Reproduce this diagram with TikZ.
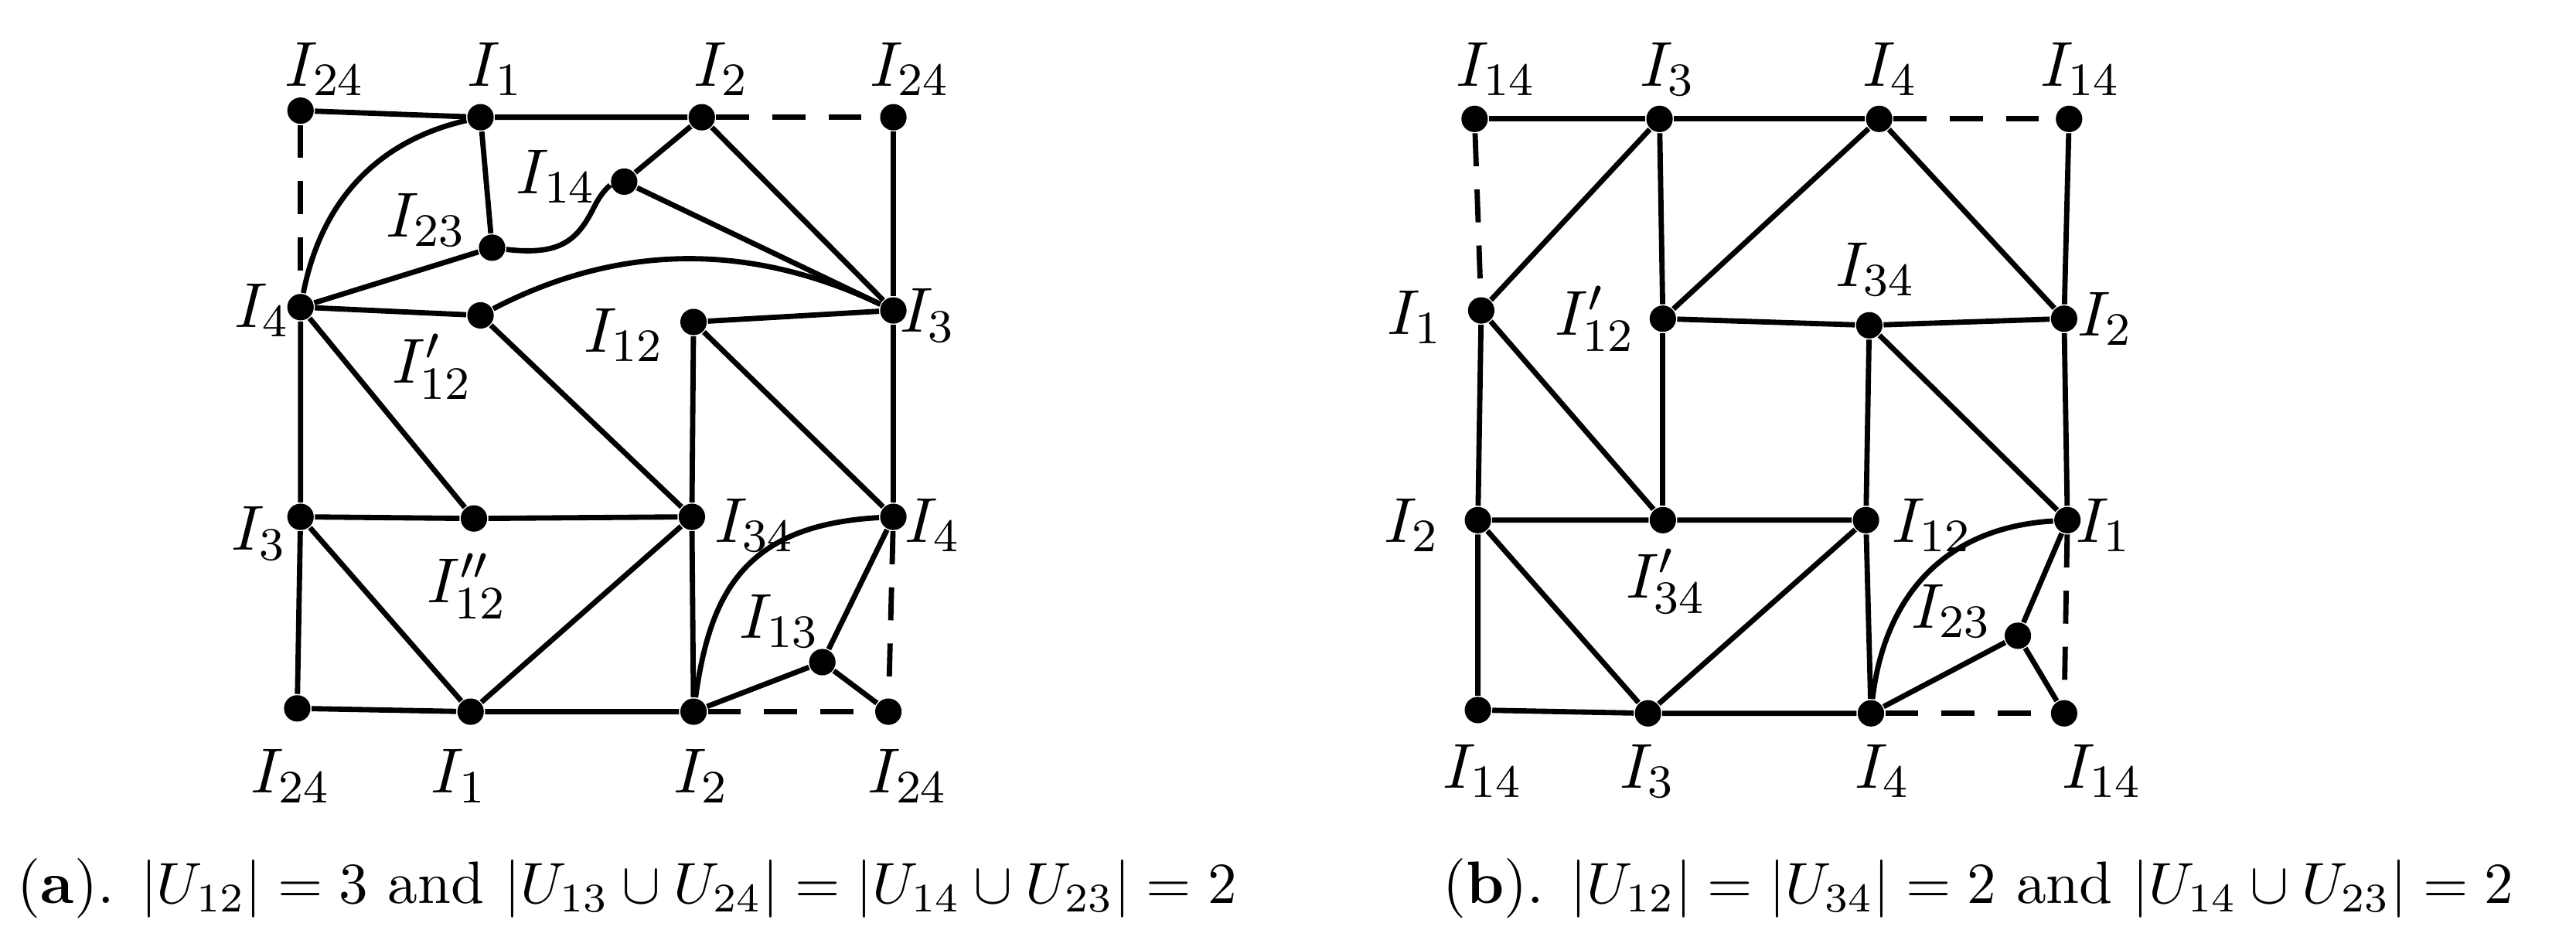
\documentclass[tikz,border=0pt]{standalone}
\begin{document}
\begin{tikzpicture}[x=0.1mm,y=-0.1mm,
 dot/.style={circle,fill=black,inner sep=0pt,minimum size=1.6mm},
 ln/.style={line width=0.32mm},
 dsh/.style={line width=0.32mm,dash pattern=on 2mm off 1.4mm},
 lb/.style={font=\fontsize{11}{13}\selectfont},
 captxt/.style={font=\fontsize{10.3}{12}\selectfont,inner sep=0pt,anchor=west}]
\useasboundingbox (0,0) rectangle (1560,573.5);
% panel a
\node[dot] (a24tl) at (182,67) {};
\node[dot] (a1t) at (291,71) {};
\node[dot] (a2t) at (425,71) {};
\node[dot] (a24tr) at (541,71) {};
\node[dot] (a14) at (378,110) {};
\node[dot] (a23) at (298,150) {};
\node[dot] (a4l) at (182,186) {};
\node[dot] (a12p) at (291,191) {};
\node[dot] (a12) at (420,195) {};
\node[dot] (a3r) at (541,188) {};
\node[dot] (a3l) at (182,313) {};
\node[dot] (a12pp) at (287,314) {};
\node[dot] (a34) at (419,313) {};
\node[dot] (a4r) at (541,313) {};
\node[dot] (a13) at (498,401) {};
\node[dot] (a24bl) at (180,429) {};
\node[dot] (a1b) at (285,431) {};
\node[dot] (a2b) at (420,431) {};
\node[dot] (a24br) at (538,431) {};
\draw[ln] (a24tl)--(a1t)--(a2t);
\draw[dsh] (a2t)--(a24tr);
\draw[dsh] (a24tl)--(a4l);
\draw[ln] (a24tr)--(a3r);
\draw[ln] (a1t)--(a23);
\draw[ln] (a4l) .. controls (195,120) and (230,85) .. (a1t);
\draw[ln] (a4l)--(a23);
\draw[ln] (a23) .. controls (340,155) and (350,145) .. (360,125) .. controls (365,115) and (370,112) .. (a14);
\draw[ln] (a14)--(a2t);
\draw[ln] (a14)--(a3r);
\draw[ln] (a2t)--(a3r);
\draw[ln] (a12p) .. controls (360,155) and (440,140) .. (a3r);
\draw[ln] (a4l)--(a12p)--(a34);
\draw[ln] (a4l)--(a12pp);
\draw[ln] (a4l)--(a3l)--(a24bl)--(a1b)--(a2b);
\draw[ln] (a3l)--(a12pp)--(a34);
\draw[ln] (a3l)--(a1b)--(a34);
\draw[ln] (a12)--(a3r)--(a4r);
\draw[ln] (a12)--(a34)--(a2b);
\draw[ln] (a12)--(a4r);
\draw[ln] (a4r) .. controls (450,318) and (430,360) .. (a2b);
\draw[ln] (a4r)--(a13)--(a2b);
\draw[ln] (a13)--(a24br);
\draw[dsh] (a4r)--(a24br);
\draw[dsh] (a2b)--(a24br);
\node[lb] at (197,42) {$I_{24}$};
\node[lb] at (300,42) {$I_{1}$};
\node[lb] at (437,42) {$I_{2}$};
\node[lb] at (551,42) {$I_{24}$};
\node[lb] at (337,107) {$I_{14}$};
\node[lb] at (258,133) {$I_{23}$};
\node[lb] at (159,188) {$I_{4}$};
\node[lb] at (262,222) {$I'_{12}$};
\node[lb] at (378,203) {$I_{12}$};
\node[lb] at (562,191) {$I_{3}$};
\node[lb] at (157,323) {$I_{3}$};
\node[lb] at (283,355) {$I''_{12}$};
\node[lb] at (457,318) {$I_{34}$};
\node[lb] at (565,318) {$I_{4}$};
\node[lb] at (472,376) {$I_{13}$};
\node[lb] at (176,470) {$I_{24}$};
\node[lb] at (278,470) {$I_{1}$};
\node[lb] at (425,470) {$I_{2}$};
\node[lb] at (550,470) {$I_{24}$};
% panel b
\node[dot] (b14tl) at (893,72) {};
\node[dot] (b3t) at (1005,72) {};
\node[dot] (b4t) at (1138,72) {};
\node[dot] (b14tr) at (1253,72) {};
\node[dot] (b1l) at (897,188) {};
\node[dot] (b12p) at (1007,193) {};
\node[dot] (b34) at (1132,197) {};
\node[dot] (b2r) at (1250,193) {};
\node[dot] (b2l) at (895,315) {};
\node[dot] (b34p) at (1007,315) {};
\node[dot] (b12) at (1130,315) {};
\node[dot] (b1r) at (1252,315) {};
\node[dot] (b23) at (1222,385) {};
\node[dot] (b14bl) at (895,430) {};
\node[dot] (b3b) at (998,432) {};
\node[dot] (b4b) at (1133,432) {};
\node[dot] (b14br) at (1250,432) {};
\draw[ln] (b14tl)--(b3t)--(b4t);
\draw[dsh] (b4t)--(b14tr);
\draw[dsh] (b14tl)--(b1l);
\draw[ln] (b14tr)--(b2r);
\draw[ln] (b1l)--(b3t)--(b12p)--(b4t)--(b2r);
\draw[ln] (b12p)--(b34)--(b2r)--(b1r);
\draw[ln] (b34)--(b1r);
\draw[ln] (b34)--(b12)--(b4b);
\draw[ln] (b1l)--(b34p);
\draw[ln] (b12p)--(b34p);
\draw[ln] (b1l)--(b2l)--(b34p)--(b12);
\draw[ln] (b2l)--(b3b)--(b12);
\draw[ln] (b2l)--(b14bl)--(b3b)--(b4b);
\draw[dsh] (b4b)--(b14br);
\draw[dsh] (b1r)--(b14br);
\draw[ln] (b1r) .. controls (1170,320) and (1140,370) .. (b4b);
\draw[ln] (b1r)--(b23)--(b4b);
\draw[ln] (b23)--(b14br);
\node[lb] at (906,42) {$I_{14}$};
\node[lb] at (1010,42) {$I_{3}$};
\node[lb] at (1145,42) {$I_{4}$};
\node[lb] at (1260,42) {$I_{14}$};
\node[lb] at (857,192) {$I_{1}$};
\node[lb] at (966,193) {$I'_{12}$};
\node[lb] at (1136,163) {$I_{34}$};
\node[lb] at (1275,193) {$I_{2}$};
\node[lb] at (855,318) {$I_{2}$};
\node[lb] at (1009,352) {$I'_{34}$};
\node[lb] at (1170,318) {$I_{12}$};
\node[lb] at (1274,318) {$I_{1}$};
\node[lb] at (1182,370) {$I_{23}$};
\node[lb] at (898,467) {$I_{14}$};
\node[lb] at (998,467) {$I_{3}$};
\node[lb] at (1140,467) {$I_{4}$};
\node[lb] at (1273,467) {$I_{14}$};
\node[captxt] at (10,538) {(\textbf{a}). $|U_{12}|=3$ and $|U_{13}\cup U_{24}|=|U_{14}\cup U_{23}|=2$};
\node[captxt] at (873,538) {(\textbf{b}). $|U_{12}|=|U_{34}|=2$ and $|U_{14}\cup U_{23}|=2$};
\end{tikzpicture}
\end{document}
